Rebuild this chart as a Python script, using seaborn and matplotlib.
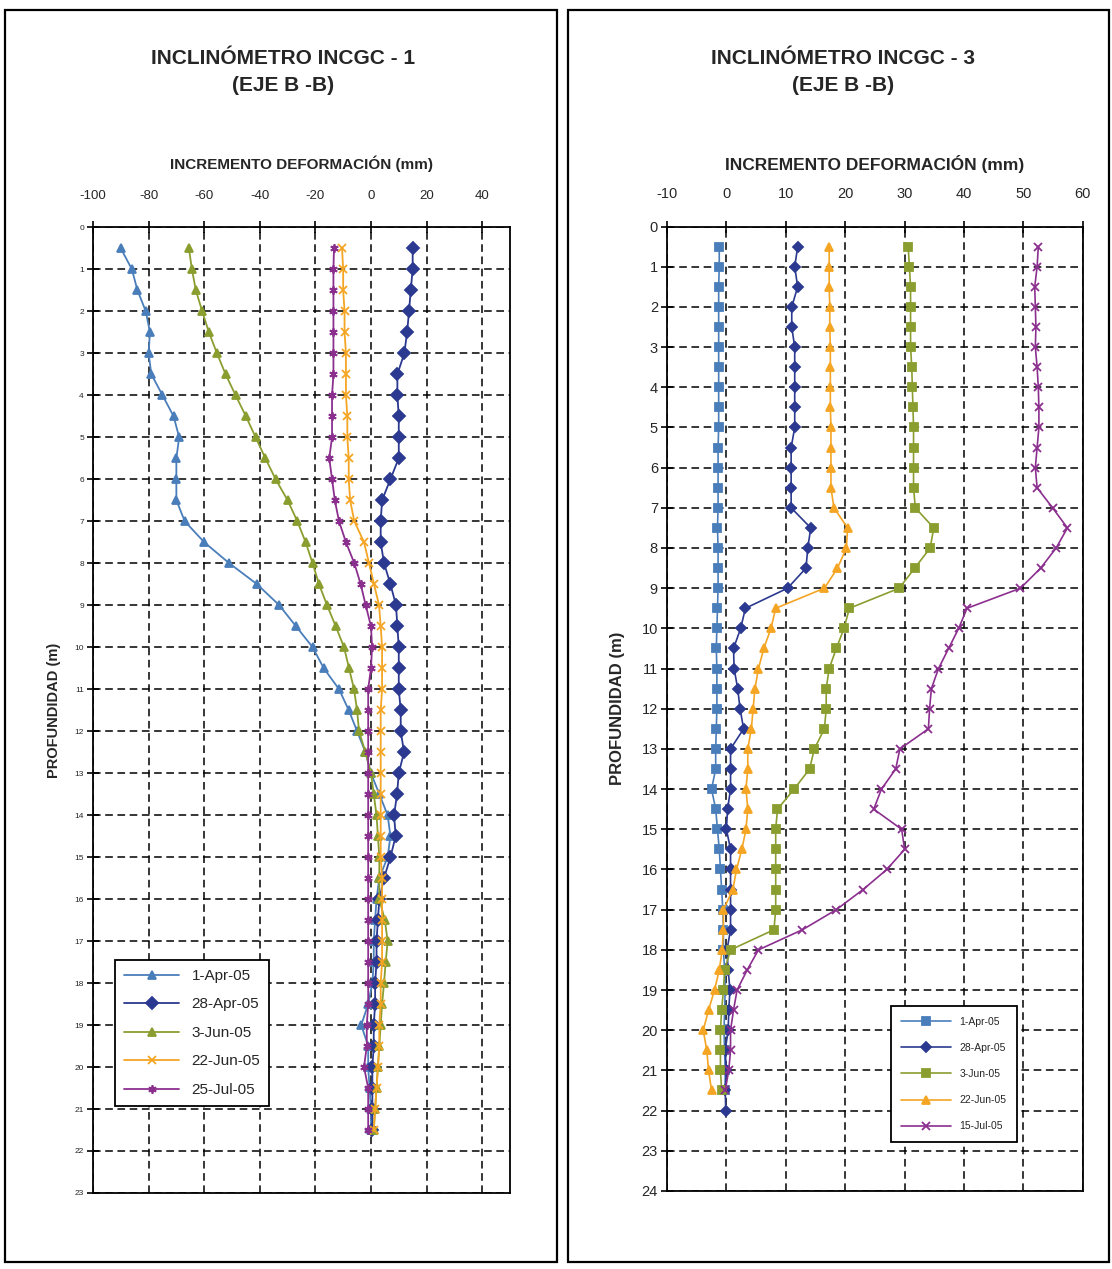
import numpy as np
import pandas as pd
import matplotlib
matplotlib.use('Agg')
import matplotlib.pyplot as plt
from matplotlib.patches import Rectangle
import seaborn as sns

# depth of readings (m)
depth_l = [0.5, 1.0, 1.5, 2.0, 2.5, 3.0, 3.5, 4.0, 4.5, 5.0, 5.5, 6.0, 6.5, 7.0, 7.5,
           8.0, 8.5, 9.0, 9.5, 10.0, 10.5, 11.0, 11.5, 12.0, 12.5, 13.0, 13.5, 14.0,
           14.5, 15.0, 15.5, 16.0, 16.5, 17.0, 17.5, 18.0, 18.5, 19.0, 19.5, 20.0,
           20.5, 21.0, 21.5]
depth_r = depth_l + [22.0]

# INCGC - 1
labels_l = ['1-Apr-05', '28-Apr-05', '3-Jun-05', '22-Jun-05', '25-Jul-05']
apr01_l = [-90, -86, -84, -81, -79.5, -80, -79, -75, -71, -69, -70, -70, -70, -67, -60,
           -51, -41, -33, -27, -21, -17, -11.5, -8, -5, -2, 0, 3, 6, 7, 6, 3, 2, 1.5, 1,
           1, 0.5, -1, -3.5, -1, -1, -0.5, 0, 0]
apr28_l = [15, 15, 14.3, 13.7, 13, 12, 9.5, 9.5, 10, 10, 10, 7, 4, 3.5, 3.5, 4.7, 7, 9,
           9.5, 10, 10, 10, 10.7, 10.7, 11.9, 10, 9.4, 8.3, 8.9, 7, 4.7, 3, 2.5, 2, 2,
           1.5, 1.5, 1, 1, 0.5, 0.5, 0.5, 0.5]
jun03_l = [-65.5, -64.4, -63, -60.7, -58.3, -55.4, -52.3, -48.7, -45, -41.5, -38, -34.3,
           -30, -26.5, -23.5, -21, -18.7, -15.8, -12.7, -9.7, -7.9, -6.1, -5, -4.3, -2,
           0, 1, 2, 2.5, 3, 3, 3, 5, 6, 5.3, 4.7, 4, 3.5, 3, 2.5, 2, 1.5, 1]
jun22_l = [-10.4, -10, -10, -9.5, -9.5, -9, -9, -9, -8.5, -8.5, -8, -8, -7.5, -6, -2.5,
           -0.7, 1.1, 2.9, 3.5, 4, 4, 4, 3.5, 3.5, 3.5, 3.5, 3.5, 3.5, 3.5, 3.5, 4, 4, 4,
           4, 4, 3.5, 3.5, 3, 3, 2.5, 2, 1.5, 1]
jul25_l = [-13.3, -13.5, -13.5, -13.5, -13.5, -13.5, -13.5, -14, -14, -14, -15, -14, -13,
           -11.5, -9, -6, -3.7, -1.9, 0, 0.4, 0, -1, -1, -1, -1, -1, -1, -1, -1, -1, -1,
           -1, -1, -1, -1, -1, -1, -1.5, -1.5, -2.5, -1, -1, -1]

# INCGC - 3
labels_r = ['1-Apr-05', '28-Apr-05', '3-Jun-05', '22-Jun-05', '15-Jul-05']
apr01_r = [-1.2, -1.2, -1.3, -1.3, -1.3, -1.3, -1.3, -1.3, -1.3, -1.3, -1.4, -1.4, -1.4,
           -1.4, -1.5, -1.4, -1.4, -1.4, -1.5, -1.6, -1.7, -1.6, -1.6, -1.6, -1.7, -1.8,
           -1.8, -2.5, -1.8, -1.5, -1.2, -1.0, -0.8, -0.6, -0.5, -0.5, -0.3, -0.2, -0.3,
           -0.4, -0.3, -0.2, -0.2]
apr28_r = [12, 11.5, 12, 11, 11, 11.5, 11.5, 11.5, 11.5, 11.5, 10.9, 10.9, 10.9, 10.9,
           14.2, 13.7, 13.4, 10.3, 3.2, 2.4, 1.2, 1.3, 1.9, 2.3, 2.9, 0.7, 0.7, 0.7, 0.2,
           0, 0.7, 0.7, 0.7, 0.7, 0.7, 0.1, 0.3, 0.6, 0.4, 0.3, -0.2, 0, -0.2, -0.1]
jun03_r = [30.6, 30.8, 31, 31, 31, 31, 31.2, 31.3, 31.4, 31.5, 31.5, 31.5, 31.5, 31.8,
           34.9, 34.3, 31.7, 29.1, 20.7, 19.8, 18.5, 17.3, 16.8, 16.8, 16.5, 14.8, 14,
           11.4, 8.6, 8.3, 8.3, 8.3, 8.3, 8.3, 8.0, 0.7, -0.3, -0.5, -0.8, -1, -1, -1, -0.8]
jun22_r = [17.3, 17.3, 17.3, 17.4, 17.4, 17.5, 17.5, 17.5, 17.5, 17.6, 17.6, 17.6, 17.6,
           18.1, 20.4, 20.2, 18.7, 16.5, 8.3, 7.5, 6.3, 5.4, 4.8, 4.5, 4.2, 3.6, 3.6, 3.3,
           3.6, 3.3, 2.6, 1.7, 1.1, -0.5, -0.5, -0.7, -1.2, -2, -3, -3.9, -3.3, -3, -2.5]
jul15_r = [52.5, 52.3, 51.9, 52, 52.1, 52, 52.3, 52.5, 52.6, 52.6, 52.3, 52, 52.3, 54.9,
           57.4, 55.5, 52.9, 49.5, 40.5, 39.1, 37.4, 35.7, 34.5, 34.2, 34, 29.2, 28.5,
           26.1, 24.8, 29.5, 30, 27, 23, 18.5, 12.8, 5.4, 3.5, 1.8, 1.2, 0.7, 0.7, 0.4, -0.2]

colors = ['#4a7ebb', '#2b3990', '#8a9e30', '#f5a524', '#8b2f8f']
markers_l = ['^', 'D', '^', 'x', (6, 2, 0)]
markers_r = ['s', 'D', 's', '^', 'x']

sns.set_theme(style='white')
plt.rcParams['font.family'] = ['Liberation Sans', 'DejaVu Sans']
plt.rcParams['axes.unicode_minus'] = False


def draw_panel(ax, series, depth_lists, labels, markers, ms, lw):
    for vals, dep, lab, col, mk in zip(series, depth_lists, labels, colors, markers):
        df = pd.DataFrame({'x': vals, 'depth': dep[:len(vals)]})
        sns.lineplot(data=df, x='x', y='depth', sort=False, estimator=None, ax=ax,
                     color=col, marker=mk, markersize=ms, markeredgecolor=col,
                     markeredgewidth=1.3, linewidth=lw, label=lab)
    ax.xaxis.tick_top()
    ax.xaxis.set_label_position('top')
    ax.grid(True, color='black', linestyle=(0, (5, 3)), linewidth=1.1)
    for sp in ax.spines.values():
        sp.set_color('black')
        sp.set_linewidth(1.3)
    ax.tick_params(axis='both', direction='inout', length=9, width=1.2, color='black',
                   top=True, bottom=False, left=True, right=False)


fig = plt.figure(figsize=(11.12, 12.69), dpi=100)
fig.patch.set_facecolor('white')
fig.add_artist(Rectangle((0.0045, 0.0055), 0.496, 0.987, transform=fig.transFigure,
                         fill=False, edgecolor='black', linewidth=1.6))
fig.add_artist(Rectangle((0.511, 0.0055), 0.486, 0.987, transform=fig.transFigure,
                         fill=False, edgecolor='black', linewidth=1.6))

# left panel
ax1 = fig.add_axes([0.0836, 0.0599, 0.375, 0.761])
draw_panel(ax1, [apr01_l, apr28_l, jun03_l, jun22_l, jul25_l], [depth_l] * 5,
           labels_l, markers_l, 6, 1.3)
ax1.set_xlim(-100, 50)
ax1.set_ylim(23, 0)
ax1.set_xticks(range(-100, 41, 20))
ax1.set_yticks(range(0, 24))
ax1.tick_params(axis='x', labelsize=9.5, pad=14)
ax1.tick_params(axis='y', labelsize=6, pad=2)
ax1.set_xlabel('INCREMENTO DEFORMACIÓN (mm)', fontsize=11, fontweight='bold', labelpad=15)
ax1.set_ylabel('PROFUNDIDAD (m)', fontsize=10.5, fontweight='bold', labelpad=10)
leg1 = ax1.legend(loc='lower left', bbox_to_anchor=(0.053, 0.09), borderaxespad=0,
                  fontsize=11, handlelength=3.6, frameon=True, fancybox=False,
                  edgecolor='black', framealpha=1, labelspacing=0.95, borderpad=0.6)
leg1.get_frame().set_linewidth(1.3)

# right panel
ax2 = fig.add_axes([0.5998, 0.0615, 0.374, 0.760])
draw_panel(ax2, [apr01_r, apr28_r, jun03_r, jun22_r, jul15_r], [depth_r] * 5,
           labels_r, markers_r, 5.5, 1.2)
ax2.set_xlim(-10, 60)
ax2.set_ylim(24, 0)
ax2.set_xticks(range(-10, 61, 10))
ax2.set_yticks(range(0, 25))
ax2.tick_params(axis='x', labelsize=10.5, pad=14)
ax2.tick_params(axis='y', labelsize=10.5, pad=2)
ax2.set_xlabel('INCREMENTO DEFORMACIÓN (mm)', fontsize=12.5, fontweight='bold', labelpad=12)
ax2.set_ylabel('PROFUNDIDAD (m)', fontsize=12, fontweight='bold', labelpad=12)
leg2 = ax2.legend(loc='lower left', bbox_to_anchor=(0.538, 0.051), borderaxespad=0,
                  fontsize=7.5, handlelength=4.8, frameon=True, fancybox=False,
                  edgecolor='black', framealpha=1, labelspacing=1.55, borderpad=1.0)
leg2.get_frame().set_linewidth(1.3)

title_font = ['Liberation Sans Narrow', 'Liberation Sans', 'DejaVu Sans']
for xc, num in [(0.2545, '1'), (0.758, '3')]:
    fig.text(xc, 0.954, f'INCLINÓMETRO INCGC - {num}', ha='center', va='center',
             fontsize=15, fontweight='bold', family=title_font)
    fig.text(xc, 0.933, '(EJE B -B)', ha='center', va='center',
             fontsize=15, fontweight='bold', family=title_font)

fig.savefig('out.png', dpi=100, facecolor='white')
